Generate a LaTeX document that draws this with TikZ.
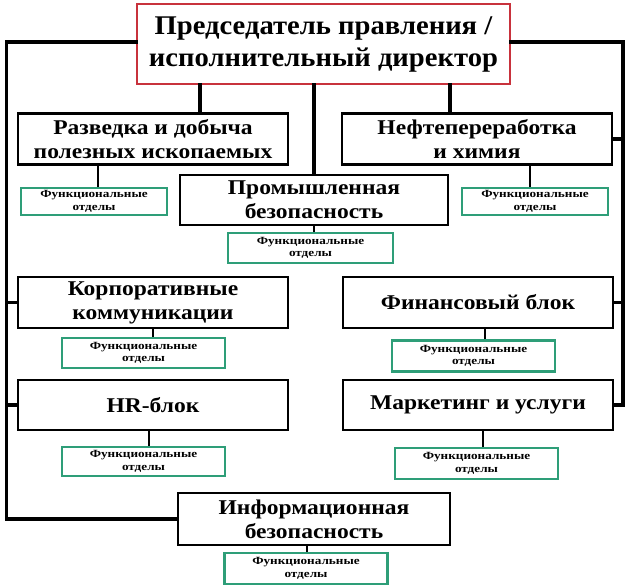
\documentclass[tikz,border=0pt]{standalone}
\usepackage{fontspec}
\setmainfont{Liberation Serif}
\newfontfamily\headfont[FakeStretch=1.06]{Liberation Serif}
\newfontfamily\unitfont[FakeStretch=1.12]{Liberation Serif}
\newfontfamily\deptfont[FakeStretch=1.2]{Liberation Serif}
\usepackage{tikz}
\definecolor{hred}{RGB}{200,50,60}
\definecolor{dgreen}{RGB}{46,158,120}
\tikzstyle{headbox} = [rectangle, draw=hred, line width=2.5pt, fill=white, align=center, font=\headfont\bfseries\fontsize{27}{32}\selectfont, minimum width=373pt, minimum height=80pt, inner sep=0pt]
\tikzstyle{unitbox} = [rectangle, draw=black, line width=2.3pt, fill=white, align=center, font=\unitfont\bfseries\fontsize{21}{24}\selectfont, minimum width=270pt, minimum height=51pt, inner sep=0pt]
\tikzstyle{deptbox} = [rectangle, draw=dgreen, line width=2.6pt, fill=white, align=center, font=\deptfont\bfseries\fontsize{11}{12.5}\selectfont, minimum width=163pt, minimum height=30pt, inner sep=0pt]
\tikzstyle{bus} = [line width=3.8pt, line cap=rect]
\tikzstyle{link} = [line width=2pt]
\def \fdept{Функциональные\\отделы}

\begin{document}
\begin{tikzpicture}[x=1pt, y=-1pt]
\useasboundingbox (0,0) rectangle (630,586);

% bus ends
\coordinate (lbus) at (6.5, 42);
\coordinate (rbus) at (623, 42);

% Head
\node[headbox] (top) at (323.5, 44) {Председатель правления /\\исполнительный директор};
% Units, first row
\node[unitbox] (razv) at (153, 139) {Разведка и добыча\\полезных ископаемых};
\node[unitbox] (neft) at (477, 139) {Нефтепереработка\\и химия};
\node[unitbox, minimum width=268pt, minimum height=50pt] (prom) at (314, 200) {Промышленная\\безопасность};
% Units, left and right columns
\node[unitbox] (korp) at (153, 302.5) {Корпоративные\\коммуникации};
\node[unitbox] (fin) at (478, 302.5) {Финансовый блок};
\node[unitbox, minimum height=50pt] (hr) at (153, 405) {HR-блок};
\node[unitbox, minimum height=50pt] (mark) at (478, 405) {Маркетинг и услуги};
% Unit, bottom
\node[unitbox, minimum width=272pt, minimum height=52pt] (info) at (314, 519) {Информационная\\безопасность};

% Functional departments
\node[deptbox, minimum width=146pt, minimum height=27pt] (frazv) at (94, 201.5) {\fdept};
\node[deptbox, minimum width=146pt, minimum height=27pt] (fneft) at (535, 201.5) {\fdept};
\node[deptbox, minimum width=165pt] (fprom) at (310.5, 248) {\fdept};
\node[deptbox] (fkorp) at (143.5, 353) {\fdept};
\node[deptbox, minimum height=31pt] (ffin) at (473.5, 356) {\fdept};
\node[deptbox, minimum height=29pt] (fhr) at (143.5, 461.5) {\fdept};
\node[deptbox, minimum height=31pt] (fmark) at (476.5, 463.5) {\fdept};
\node[deptbox, minimum height=31pt] (finfo) at (306, 568.5) {\fdept};

% head to first row
\draw[bus] ([xshift=47pt]razv.north) -- ([xshift=47pt]razv.north |- top.south);
\draw[bus] (prom.north) -- (prom.north |- top.south);
\draw[bus] ([xshift=-27pt]neft.north) -- ([xshift=-27pt]neft.north |- top.south);
% left bus
\draw[bus] (top.west |- lbus) -- (lbus) |- (info.west);
\draw[bus] (korp.west) -- (korp.west -| lbus);
\draw[bus] (hr.west) -- (hr.west -| lbus);
% right bus
\draw[bus] (top.east |- rbus) -- (rbus) |- (mark.east);
\draw[bus] (neft.east) -- (neft.east -| rbus);
\draw[bus] (fin.east) -- (fin.east -| rbus);

% units to departments
\draw[link] ([xshift=4pt]frazv.north) -- ([xshift=4pt]frazv.north |- razv.south);
\draw[link] ([xshift=-5pt]fneft.north) -- ([xshift=-5pt]fneft.north |- neft.south);
\draw[link] (prom.south) -- (prom.south |- fprom.north);
\draw[link] (korp.south) -- (korp.south |- fkorp.north);
\draw[link] ([xshift=7pt]fin.south) -- ([xshift=7pt]fin.south |- ffin.north);
\draw[link] ([xshift=-4pt]hr.south) -- ([xshift=-4pt]hr.south |- fhr.north);
\draw[link] ([xshift=5pt]mark.south) -- ([xshift=5pt]mark.south |- fmark.north);
\draw[link] ([xshift=-7pt]info.south) -- ([xshift=-7pt]info.south |- finfo.north);
\end{tikzpicture}
\end{document}
